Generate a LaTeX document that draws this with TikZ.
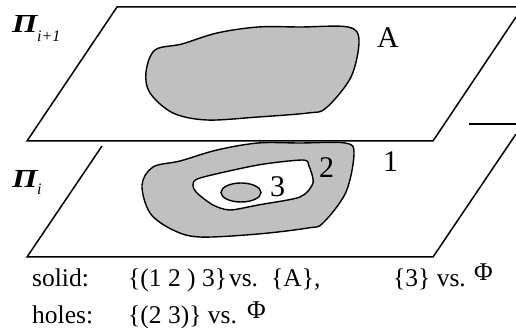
\documentclass[tikz,border=0pt]{standalone}
\usepackage{fontspec}
\setmainfont{Liberation Serif}
\usepackage{xcolor}
\definecolor{blobcol}{RGB}{192,192,192}

\begin{document}
\begin{tikzpicture}[
    x=1pt, y=-1pt,
    planeline/.style={draw=black, line width=1.5pt, line join=miter},
    blob/.style={draw=black, line width=1.4pt, fill=#1},
    biglabel/.style={font=\fontsize{30}{30}\selectfont, anchor=base west, inner sep=0pt},
    txtlabel/.style={font=\fontsize{25.5}{25.5}\selectfont, anchor=base west, inner sep=0pt},
    planename/.style={font=\fontsize{26}{26}\selectfont\bfseries\itshape, anchor=base west, inner sep=0pt, xscale=1.25},
    subname/.style={font=\fontsize{16}{16}\selectfont\itshape, anchor=base west, inner sep=0pt},
]
\useasboundingbox (0,0) rectangle (516,328);

% ============ UPPER PLANE ============
\draw[planeline] (516,7) -- (117,7) -- (27,141) -- (433,141) -- (516,17);
\draw[blob=blobcol] plot[smooth cycle, tension=0.55] coordinates {
  (146,72) (155,50) (182,44) (217,33) (258,27) (300,27) (348,27) (359,40)
  (351,77) (326,108) (308,113) (258,117) (207,120) (173,113) (150,93)};

% ============ LOWER PLANE ============
\draw[planeline] (102,146) -- (27,257) -- (433,257) -- (516,134);
\draw[planeline] (469,124) -- (516,124);
\draw[blob=blobcol] plot[smooth cycle, tension=0.55] coordinates {
  (142,185) (153,167) (180,161) (217,150) (258,143) (300,143) (345,143) (354,153)
  (346,192) (323,223) (308,228) (258,234) (200,237) (173,230) (150,213)};
\draw[blob=white] plot[smooth cycle, tension=0.45] coordinates {
  (193,185) (200,178) (258,165) (303,160) (309,166) (313,183) (300,197)
  (258,205) (230,210) (213,205) (197,193)};
\draw[blob=blobcol] (241,192.5) ellipse (20 and 9.5);

% ============ LABELS ============
\node[planename] (pitop) at (12,33) {Π};
\node[subname] (pitopsub) at (37,42) {i+1};
\node[planename] (pilow) at (12,188) {Π};
\node[subname] (pilowsub) at (37,195) {i};
\node[biglabel] (lblA) at (377,48) {A};
\node[biglabel] (lbl1) at (383,172) {1};
\node[biglabel] (lbl2) at (319,178) {2};
\node[biglabel] (lbl3) at (270,197) {3};

% ============ BOTTOM TEXT ============
\node[txtlabel] (solid) at (32,287) {solid:};
\node[txtlabel] (solidset) at (128,287) {\{(1 2 ) 3\}\hspace{2pt}vs.};
\node[txtlabel] (solidA) at (271,287) {\{A\},};
\node[txtlabel] (solidtop) at (393,287) {\{3\} vs.};
\node[txtlabel] (phitop) at (474,280) {Φ};
\node[txtlabel] (holes) at (32,323) {holes:};
\node[txtlabel] (holeset) at (128,323) {\{(2 3)\} vs.};
\node[txtlabel] (philow) at (247,318) {Φ};

\end{tikzpicture}
\end{document}
